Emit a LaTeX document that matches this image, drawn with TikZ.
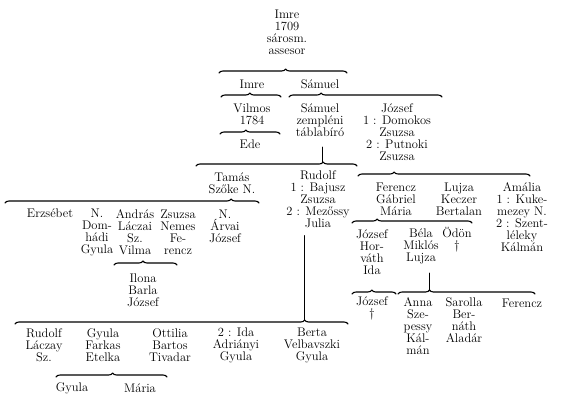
\documentclass[tikz,border=0pt]{standalone}
\usetikzlibrary{decorations.pathreplacing}

\begin{document}
\begin{tikzpicture}[x=1pt, y=-1pt, line width=1.1pt, line cap=round, line join=round,
  person/.style={anchor=center, inner sep=0pt, align=center, font=\fontsize{12.5}{12}\selectfont},
  fork/.style={decorate, decoration={brace, amplitude=4pt, aspect=#1}},
  fork/.default=0.5,
  bar/.style={line width=0.9pt}]

  %% ════ names (one node per column) ════
  \node[person] (imreA)    at (287.0,32.5)  {Imre\\1709\\sárosm.\\assesor};
  \node[person] (imreB)    at (252.0,84.0)  {Imre};
  \node[person] (samuelA)  at (320.0,84.0)  {Sámuel};
  \node[person] (vilmos)   at (252.0,114.0) {Vilmos\\1784};
  \node[person] (ede)      at (250.0,144.0) {Ede};
  \node[person] (samuelB)  at (320.0,120.0) {Sámuel\\zempléni\\táblabíró};
  \node[person] (jozsefA)  at (397.0,132.5) {József\\1 : Domokos\\Zsuzsa\\2 : Putnoki\\Zsuzsa};

  \node[person] (tamas)    at (232.0,183.0) {Tamás\\Szőke N.};
  \node[person] (rudolfA)  at (318.0,199.5) {Rudolf\\1 : Bajusz\\Zsuzsa\\2 : Mezőssy\\Julia};
  \node[person] (ferenczA) at (396.0,199.0) {Ferencz\\Gábriel\\Mária};
  \node[person] (lujzaA)   at (459.0,199.0) {Lujza\\Keczer\\Bertalan};
  \node[person] (amalia)   at (522.0,217.0) {Amália\\1 : Kuke-\\mezey N.\\2 : Szent-\\léleky\\Kálmán};

  \node[person] (erzsebet) at (50.0,213.0)  {Erzsébet};
  \node[person] (nA)       at (97.0,232.0)  {N.\\Dom-\\hádi\\Gyula};
  \node[person] (andras)   at (135.0,232.0) {András\\Láczai\\Sz.\\Vilma};
  \node[person] (zsuzsaA)  at (178.0,232.0) {Zsuzsa\\Nemes\\Fe-\\rencz};
  \node[person] (nB)       at (225.0,226.0) {N.\\Árvai\\József};
  \node[person] (ilona)    at (143.0,290.0) {Ilona\\Barla\\József};

  \node[person] (rudolfB)  at (44.0,345.0)  {Rudolf\\Láczay\\Sz.};
  \node[person] (gyulaA)   at (103.0,345.0) {Gyula\\Farkas\\Etelka};
  \node[person] (ottilia)  at (170.0,345.0) {Ottilia\\Bartos\\Tivadar};
  \node[person] (ida)      at (236.0,345.0) {2 : Ida\\Adriányi\\Gyula};
  \node[person] (berta)    at (312.0,345.0) {Berta\\Velbavszki\\Gyula};
  \node[person] (gyulaB)   at (72.0,388.0)  {Gyula};
  \node[person] (mariaB)   at (140.0,388.0) {Mária};

  \node[person] (jozsefB)  at (372.0,252.0) {József\\Hor-\\váth\\Ida};
  \node[person] (bela)     at (421.0,246.0) {Béla\\Miklós\\Lujza};
  \node[person] (odon)     at (457.0,240.0) {Ödön\\\dag};
  \node[person] (jozsefC)  at (372.0,308.5) {József\\\dag};
  \node[person] (anna)     at (418.0,326.5) {Anna\\Sze-\\pessy\\Kál-\\mán};
  \node[person] (sarolla)  at (464.0,320.5) {Sarolla\\Ber-\\náth\\Aladár};
  \node[person] (ferenczB) at (522.0,303.0) {Ferencz};

  %% ════ braces ════
  \draw[fork=0.52] (219.0,73.0)  -- (347.0,73.0);   % under imreA
  \draw[fork=0.48] (221.0,97.0)  -- (281.0,97.0);   % under imreB
  \draw[fork=0.21] (289.0,97.0)  -- (442.0,97.0);   % under samuelA
  \draw[fork=0.43] (220.0,134.0) -- (280.0,134.0);  % under vilmos
  \draw[fork=0.79] (196.0,166.0) -- (357.0,166.0);  % under samuelB
  \draw[fork=0.21] (358.0,176.0) -- (530.0,176.0);  % under jozsefA
  \draw[fork=0.89] (5.0,203.0)   -- (259.0,203.0);  % under tamas
  \draw[fork=0.21] (352.0,223.0) -- (472.0,223.0);  % under ferenczA
  \draw[fork=0.46] (114.0,265.0) -- (177.0,265.0);  % under andras
  \draw[fork=0.87] (15.0,324.0)  -- (348.0,324.0);  % under rudolfA
  \draw[fork=0.51] (56.0,377.0)  -- (167.0,377.0);  % under gyulaA
  \draw[fork=0.45] (352.0,294.0) -- (396.0,294.0);  % under jozsefB
  \draw[fork=0.23] (398.0,294.0) -- (535.0,294.0);  % under bela

  %% ════ bars down to the brace tips ════
  \coordinate (tipSamuel) at (322.0,162.0);
  \coordinate (tipRudolf) at (304.0,320.0);
  \coordinate (tipBela)   at (429.0,290.0);
  \draw[bar] ([shift={(2,10)}]samuelB.south) -- (tipSamuel);
  \draw[bar] ([shift={(-14,7)}]rudolfA.south) -- (tipRudolf);
  \draw[bar] ([shift={(8,9)}]bela.south) -- (tipBela);

  % fix the canvas to the reference size
  \pgfresetboundingbox
  \path[use as bounding box] (0,0) rectangle (567,405);
\end{tikzpicture}
\end{document}
